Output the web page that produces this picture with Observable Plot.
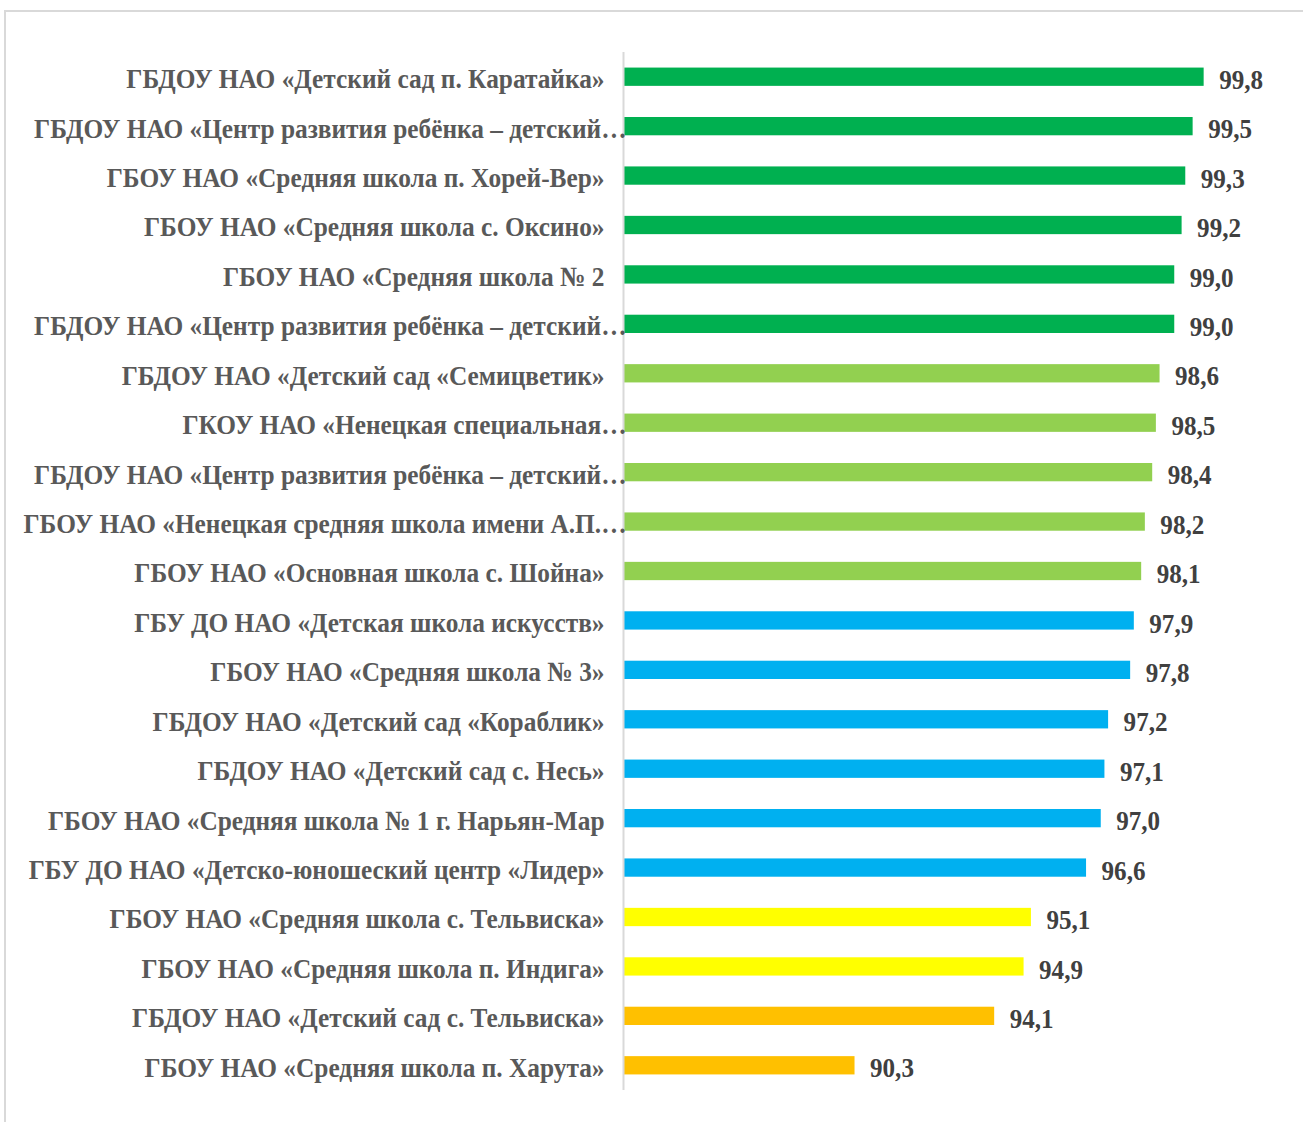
<!DOCTYPE html>
<html>
<head>
<meta charset="utf-8">
<script src="https://cdn.jsdelivr.net/npm/d3@7"></script>
<script src="https://cdn.jsdelivr.net/npm/@observablehq/plot@0.6"></script>
<style>
  html, body { margin: 0; padding: 0; background: #fff; }
  #wrap { position: relative; width: 1303px; height: 1122px; overflow: hidden; }
  #border { position: absolute; left: 4px; top: 10px; right: -10px; bottom: -10px;
            border-top: 2px solid #d9d9d9; border-left: 2px solid #d9d9d9; }
  #chart { position: absolute; left: 0; top: 0; }
</style>
</head>
<body>
<div id="wrap"><div id="border"></div><div id="chart"></div></div>
<script>
const names = [
  "ГБДОУ НАО «Детский сад п. Каратайка»",
  "ГБДОУ НАО «Центр развития ребёнка – детский…",
  "ГБОУ НАО «Средняя школа п. Хорей-Вер»",
  "ГБОУ НАО «Средняя школа с. Оксино»",
  "ГБОУ НАО «Средняя школа № 2",
  "ГБДОУ НАО «Центр развития ребёнка – детский…",
  "ГБДОУ НАО «Детский сад «Семицветик»",
  "ГКОУ НАО «Ненецкая специальная…",
  "ГБДОУ НАО «Центр развития ребёнка – детский…",
  "ГБОУ НАО «Ненецкая средняя школа имени А.П.…",
  "ГБОУ НАО «Основная школа с. Шойна»",
  "ГБУ ДО НАО «Детская школа искусств»",
  "ГБОУ НАО «Средняя школа № 3»",
  "ГБДОУ НАО «Детский сад «Кораблик»",
  "ГБДОУ НАО «Детский сад с. Несь»",
  "ГБОУ НАО «Средняя школа № 1 г. Нарьян-Мар",
  "ГБУ ДО НАО «Детско-юношеский центр «Лидер»",
  "ГБОУ НАО «Средняя школа с. Тельвиска»",
  "ГБОУ НАО «Средняя школа п. Индига»",
  "ГБДОУ НАО «Детский сад с. Тельвиска»",
  "ГБОУ НАО «Средняя школа п. Харута»"
];
const values = [99.8, 99.5, 99.3, 99.2, 99.0, 99.0, 98.6, 98.5, 98.4, 98.2, 98.1,
                97.9, 97.8, 97.2, 97.1, 97.0, 96.6, 95.1, 94.9, 94.1, 90.3];
const tiers = ["t1","t1","t1","t1","t1","t1","t2","t2","t2","t2","t2",
               "t3","t3","t3","t3","t3","t3","t4","t4","t5","t5"];
const tierDomain = ["t1","t2","t3","t4","t5"];
const tierColors = ["#00B050","#92D050","#00B0F0","#FFFF00","#FFC000"];
const xDomain = [84, 100];

const rows = names.map((name, i) => ({i, name, value: values[i], tier: tiers[i]}));
const fmt = v => d3.format(".1f")(v).replace(".", ",");
const serif = "'Liberation Serif', 'Times New Roman', serif";

const plot = Plot.plot({
  width: 1303,
  height: 1122,
  marginTop: 52,
  marginBottom: 32,
  marginLeft: 623,
  marginRight: 92,
  style: {fontFamily: serif, background: "transparent"},
  x: {domain: xDomain, axis: null},
  y: {domain: d3.range(names.length), axis: null, round: false, paddingInner: 0.63, paddingOuter: 0.315},
  color: {domain: tierDomain, range: tierColors},
  marks: [
    Plot.barX(rows, {x1: () => xDomain[0], x2: "value", y: "i", fill: "tier"}),
    Plot.ruleX([xDomain[0]], {stroke: "#d9d9d9", strokeWidth: 2}),
    Plot.text(rows.filter(d => !d.name.endsWith("…")), {
      y: "i", text: "name", frameAnchor: "left", textAnchor: "end", dx: -19, dy: 2,
      fontSize: 28, fontWeight: "bold", fill: "#595959"
    }),
    Plot.text(rows.filter(d => d.name.endsWith("…")), {
      y: "i", text: "name", frameAnchor: "left", textAnchor: "end", dx: 3, dy: 2,
      fontSize: 28, fontWeight: "bold", fill: "#595959"
    }),
    Plot.text(rows, {
      x: "value", y: "i", text: d => fmt(d.value), textAnchor: "start", dx: 15, dy: 3,
      fontSize: 27, fontWeight: "bold", fill: "#404040"
    })
  ]
});
document.getElementById("chart").appendChild(plot);

const textGroups = plot.querySelectorAll('g[aria-label="text"]');
function squeeze(g, s) {
  g.querySelectorAll("text").forEach(t => {
    const L = t.getComputedTextLength();
    t.setAttribute("textLength", (L * s).toFixed(1));
    t.setAttribute("lengthAdjust", "spacingAndGlyphs");
  });
}
squeeze(textGroups[0], 0.905);
squeeze(textGroups[1], 0.905);
squeeze(textGroups[2], 0.93);
</script>
</body>
</html>
